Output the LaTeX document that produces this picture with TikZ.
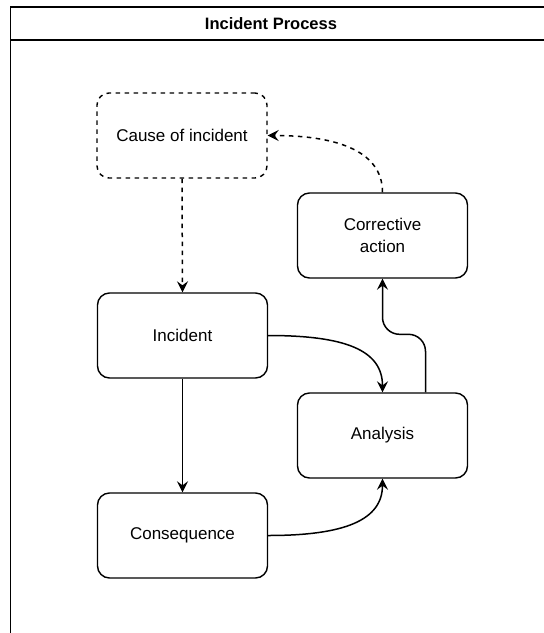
\documentclass[tikz,border=0pt]{standalone}
\usepackage{fontspec}
\setmainfont{Liberation Sans}
\usetikzlibrary{arrows.meta,calc}
\tikzset{
  box/.style={draw=black, line width=1.4pt, rounded corners=12pt, minimum width=170pt, minimum height=85pt, inner sep=0pt, align=center, font=\fontsize{17}{21.5}\selectfont},
  dbox/.style={box, dash pattern=on 4.5pt off 4.5pt},
  link/.style={draw=black, line width=1.5pt, -{Stealth[length=11pt,width=11pt,inset=4pt]}},
  dlink/.style={link, dash pattern=on 4.5pt off 4.5pt},
  frame/.style={draw=black, line width=1.4pt}
}
\begin{document}
\begin{tikzpicture}[x=1pt,y=-1pt]
\useasboundingbox (0,0) rectangle (544,633);
% swimlane frame
\coordinate (ftl) at (10.5,7);
\coordinate (ftr) at (544,7);
\coordinate (fbl) at (10.5,40);
\coordinate (fbr) at (544,40);
\coordinate (fbot) at (10.5,633);
\draw[frame] (ftr) -- (ftl) -- (fbot);
\draw[frame] (fbl) -- (fbr);
\node[font=\bfseries\fontsize{16.5}{20}\selectfont] (title) at (271,24) {Incident Process};
% nodes
\node[dbox] (cause) at (182,135.5) {Cause of incident};
\node[box] (corr) at (382.5,235.5) {Corrective\\action};
\node[box] (inc) at (182.5,335.5) {Incident};
\node[box] (ana) at (382.5,435.5) {Analysis};
\node[box] (cons) at (182.5,535.5) {Consequence};
% connectors
\draw[dlink] (cause.south) -- (inc.north);
\draw[link] (inc.south) -- (cons.north);
\draw[link] (inc.east) .. controls (345,335.5) and (382.5,350) .. (ana.north);
\draw[link] (cons.east) .. controls (345,535.5) and (382.5,520) .. (ana.south);
\draw[link, rounded corners=17pt] ([xshift=43pt]ana.north) -- ++(0,-58) -| (corr.south);
\draw[dlink] (corr.north) .. controls (382.5,148) and (330,135.5) .. (cause.east);
\end{tikzpicture}
\end{document}
